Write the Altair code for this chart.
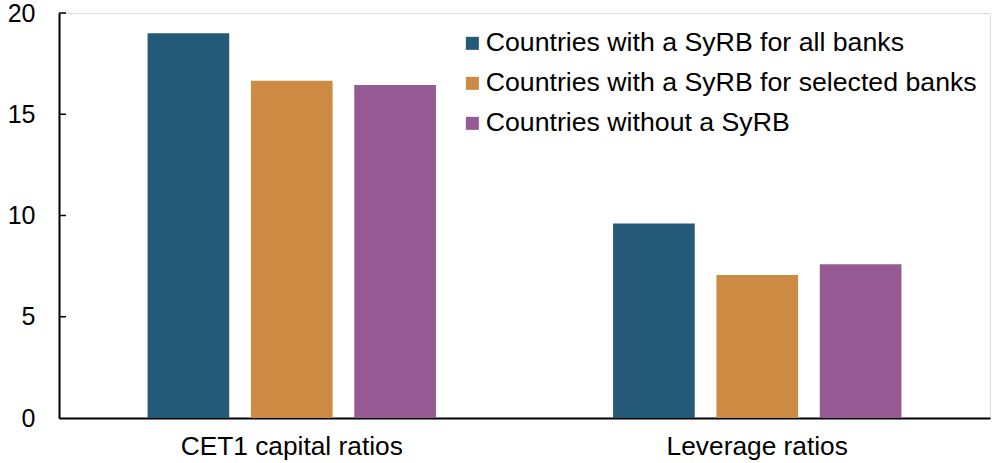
import altair as alt
import pandas as pd

categories = ["CET1 capital ratios", "Leverage ratios"]
series = [
    "Countries with a SyRB for all banks",
    "Countries with a SyRB for selected banks",
    "Countries without a SyRB",
]
colors = ["#245a78", "#cc8a42", "#955a93"]
cet1_values = [19.0, 16.66, 16.44]
leverage_values = [9.61, 7.06, 7.59]
y_ticks = [0, 5, 10, 15, 20]

rows = []
for s, v in zip(series, cet1_values):
    rows.append({"category": categories[0], "series": s, "value": v})
for s, v in zip(series, leverage_values):
    rows.append({"category": categories[1], "series": s, "value": v})
df = pd.DataFrame(rows)
ticks_df = pd.DataFrame({"t": y_ticks[1:]})

FONT = "Liberation Sans"

yscale = alt.Scale(domain=[0, 20])

bars = alt.Chart(df).mark_bar().encode(
    x=alt.X("category:N", sort=categories, title=None,
            scale=alt.Scale(paddingInner=0, paddingOuter=0),
            axis=alt.Axis(labelAngle=0, ticks=False, labelPadding=15,
                          labelFontSize=26.3, labelColor="black", labelFont=FONT,
                          labelLimit=600,
                          domainColor="black", domainWidth=2)),
    xOffset=alt.XOffset("series:N", sort=series,
                        scale=alt.Scale(paddingInner=0.21, paddingOuter=0.857)),
    y=alt.Y("value:Q", scale=yscale, title=None,
            axis=alt.Axis(values=y_ticks, ticks=False, labelPadding=24,
                          labelFontSize=25, labelColor="black", labelFont=FONT,
                          domainColor="black", domainWidth=2, grid=False)),
    color=alt.Color("series:N", sort=series,
                    scale=alt.Scale(domain=series, range=colors),
                    legend=alt.Legend(title=None, orient="none", legendX=400, legendY=17,
                                      symbolType="square", symbolSize=169,
                                      symbolStrokeWidth=0,
                                      labelFontSize=26.7, labelFont=FONT, labelColor="black",
                                      rowPadding=12, labelLimit=700, labelOffset=0)),
)

tick_marks = alt.Chart(ticks_df).mark_rule(color="black", strokeWidth=1.5).encode(
    x=alt.value(0), x2=alt.value(7),
    y=alt.Y("t:Q", scale=yscale),
)

chart = alt.layer(bars, tick_marks).properties(
    width=931, height=405,
    autosize=alt.AutoSizeParams(type="none"),
    padding={"left": 59, "top": 13, "right": 2, "bottom": 45},
).configure_view(stroke="black", strokeWidth=1).configure(background="white")

chart.save("out.html", embed_options={"renderer": "svg", "actions": False})
